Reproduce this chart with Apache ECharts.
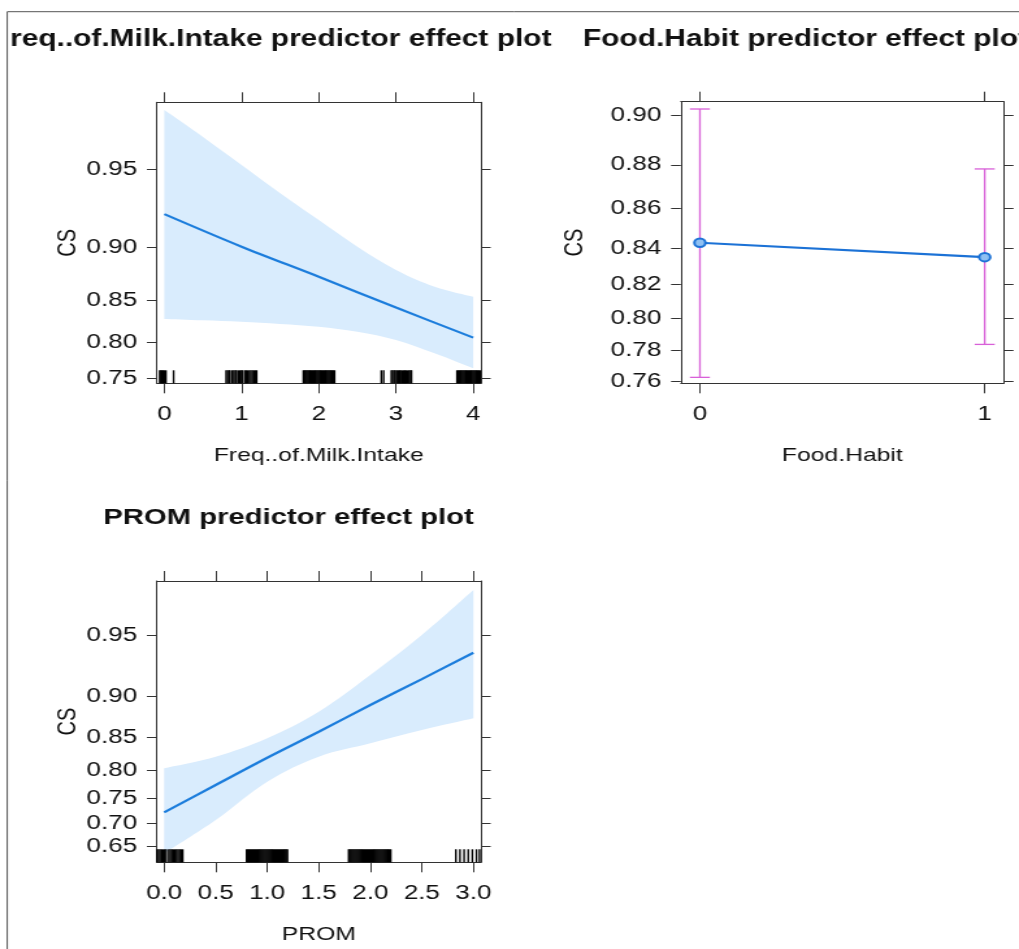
<!DOCTYPE html>
<html>
<head>
<meta charset="utf-8">
<script src="https://cdn.jsdelivr.net/npm/echarts@6.0.0/dist/echarts.min.js"></script>
<style>
html,body{margin:0;padding:0;background:#fff;overflow:hidden;width:1019px;height:949px;}
#c{width:784px;height:949px;transform:scaleX(1.29974);transform-origin:0 0;}
</style>
</head>
<body>
<div id="c"></div>
<script>
// ---------------- data (probabilities) ----------------
const titles = ['req..of.Milk.Intake predictor effect plot', 'Food.Habit predictor effect plot', 'PROM predictor effect plot'];

// Panel 1: Freq..of.Milk.Intake
const milkX = [0, 1, 2, 3, 4];
const milkFit = [0.9245, 0.9006, 0.874, 0.842, 0.806];
const milkBandX = [0, 0.5, 1, 1.5, 2, 2.5, 3, 3.5, 4];
const milkUpper = [0.9725, 0.9636, 0.9519, 0.9373, 0.9205, 0.9006, 0.8804, 0.8642, 0.8538];
const milkLower = [0.829, 0.8273, 0.8256, 0.823, 0.8196, 0.8134, 0.803, 0.7854, 0.7645];
const milkXTicks = [0, 1, 2, 3, 4];
const milkYTicks = [0.75, 0.80, 0.85, 0.90, 0.95];
const milkRug = [-0.06, -0.045, -0.03, -0.015, 0.0, 0.02, 0.12,
  0.80, 0.82, 0.84, 0.85, 0.88, 0.90, 0.92, 0.935, 0.96, 0.98, 1.0, 1.01, 1.04, 1.06, 1.075, 1.10, 1.12, 1.14, 1.16, 1.18, 1.195,
  1.80, 1.815, 1.83, 1.845, 1.86, 1.875, 1.89, 1.905, 1.92, 1.935, 1.95, 1.965, 1.98, 1.995, 2.01, 2.025, 2.04, 2.055, 2.07, 2.085, 2.10, 2.115, 2.13, 2.145, 2.16, 2.175, 2.19, 2.205,
  2.81, 2.84, 2.94, 2.955, 2.975, 2.99, 3.01, 3.03, 3.045, 3.06, 3.08, 3.10, 3.115, 3.13, 3.15, 3.17, 3.19, 3.20,
  3.79, 3.805, 3.82, 3.835, 3.85, 3.865, 3.88, 3.895, 3.91, 3.925, 3.94, 3.955, 3.97, 3.985, 4.0, 4.015, 4.03, 4.045, 4.06, 4.075, 4.09];

// Panel 2: Food.Habit
const foodX = [0, 1];
const foodFit = [0.8428, 0.8352];
const foodUpper = [0.9025, 0.8782];
const foodLower = [0.7625, 0.784];
const foodXTicks = [0, 1];
const foodYTicks = [0.76, 0.78, 0.80, 0.82, 0.84, 0.86, 0.88, 0.90];

// Panel 3: PROM
const promX = [0, 0.5, 1, 1.5, 2, 2.5, 3];
const promFit = [0.7225, 0.7742, 0.8199, 0.8576, 0.8904, 0.9167, 0.9382];
const promUpper = [0.8029, 0.8214, 0.8486, 0.8827, 0.9203, 0.95, 0.9721];
const promLower = [0.6354, 0.7069, 0.78, 0.8214, 0.8415, 0.8599, 0.8748];
const promXTicks = [0, 0.5, 1, 1.5, 2, 2.5, 3];
const promYTicks = [0.65, 0.70, 0.75, 0.80, 0.85, 0.90, 0.95];
const promRug = [-0.07, -0.055, -0.04, -0.025, -0.01, 0.005, 0.02, 0.045, 0.06, 0.075, 0.09, 0.105, 0.12, 0.135, 0.15, 0.165, 0.18,
  0.80, 0.812, 0.824, 0.836, 0.848, 0.86, 0.872, 0.884, 0.896, 0.908, 0.92, 0.932, 0.944, 0.956, 0.968, 0.98, 0.992, 1.004, 1.016, 1.028, 1.04, 1.052, 1.064, 1.076, 1.088, 1.10, 1.112, 1.124, 1.136, 1.148, 1.16, 1.172, 1.184, 1.196,
  1.79, 1.802, 1.814, 1.826, 1.838, 1.85, 1.862, 1.874, 1.886, 1.898, 1.91, 1.922, 1.934, 1.946, 1.958, 1.97, 1.982, 1.994, 2.006, 2.018, 2.03, 2.042, 2.054, 2.066, 2.078, 2.09, 2.102, 2.114, 2.126, 2.138, 2.15, 2.162, 2.174, 2.186, 2.198,
  2.83, 2.87, 2.91, 2.95, 2.99, 3.03, 3.06];

// ---------------- probit scale helper (the plot's y scale) ----------------
function qnorm(p) {
  const a = [-3.969683028665376e+01, 2.209460984245205e+02, -2.759285104469687e+02, 1.383577518672690e+02, -3.066479806614716e+01, 2.506628277459239e+00];
  const b = [-5.447609879822406e+01, 1.615858368580409e+02, -1.556989798598866e+02, 6.680131188771972e+01, -1.328068155288572e+01];
  const c = [-7.784894002430293e-03, -3.223964580411365e-01, -2.400758277161838e+00, -2.549732539343734e+00, 4.374664141464968e+00, 2.938163982698783e+00];
  const d = [7.784695709041462e-03, 3.224671290700398e-01, 2.445134137142996e+00, 3.754408661907416e+00];
  const pl = 0.02425, ph = 1 - pl;
  let q, r;
  if (p < pl) { q = Math.sqrt(-2 * Math.log(p)); return (((((c[0]*q+c[1])*q+c[2])*q+c[3])*q+c[4])*q+c[5]) / ((((d[0]*q+d[1])*q+d[2])*q+d[3])*q+1); }
  if (p > ph) { q = Math.sqrt(-2 * Math.log(1 - p)); return -(((((c[0]*q+c[1])*q+c[2])*q+c[3])*q+c[4])*q+c[5]) / ((((d[0]*q+d[1])*q+d[2])*q+d[3])*q+1); }
  q = p - 0.5; r = q * q;
  return (((((a[0]*r+a[1])*r+a[2])*r+a[3])*r+a[4])*r+a[5])*q / (((((b[0]*r+b[1])*r+b[2])*r+b[3])*r+b[4])*r+1);
}

// ---------------- styles ----------------
const FONT = 'Liberation Sans';
const INK = '#111';
const FRAME = '#333';
const LINE_BLUE = '#1c7ddc';
const BAND = '#d9ecfd';
const BAR_PINK = '#d860d8';

const panels = [
  { grid: { left: 120.5, top: 102.3, width: 249.5, height: 281 }, xMin: -0.1, xMax: 4.1, yMin: 0.7426, yMax: 0.9747,
    xTicks: milkXTicks, yTicks: milkYTicks, xFmt: v => String(Math.round(v)), xName: 'Freq..of.Milk.Intake', yGap: 57 },
  { grid: { left: 523.8, top: 101.7, width: 248.5, height: 281.6 }, xMin: -0.067, xMax: 1.067, yMin: 0.7585, yMax: 0.9052,
    xTicks: foodXTicks, yTicks: foodYTicks, xFmt: v => String(Math.round(v)), xName: 'Food.Habit', yGap: 71 },
  { grid: { left: 120.5, top: 581, width: 249.5, height: 281.3 }, xMin: -0.073, xMax: 3.073, yMin: 0.6151, yMax: 0.9754,
    xTicks: promXTicks, yTicks: promYTicks, xFmt: v => v.toFixed(1), xName: 'PROM', yGap: 57 }
];

const grids = [], xAxes = [], yAxes = [];
const lineStyle = { color: FRAME, width: 1 };
panels.forEach((p, i) => {
  grids.push(Object.assign({ containLabel: false }, p.grid));
  const yq = p.yTicks.map(qnorm);
  const yFmt = v => { let best = 0; yq.forEach((t, k) => { if (Math.abs(t - v) < Math.abs(yq[best] - v)) best = k; }); return p.yTicks[best].toFixed(2); };
  const common = { type: 'value', gridIndex: i, splitLine: { show: false } };
  xAxes.push(Object.assign({}, common, {
    position: 'bottom', min: p.xMin, max: p.xMax,
    name: p.xName, nameLocation: 'middle', nameGap: 63,
    nameTextStyle: { fontFamily: FONT, fontSize: 19, color: INK },
    axisLine: { show: true, onZero: false, lineStyle },
    axisTick: { show: true, inside: false, length: 10, customValues: p.xTicks, lineStyle },
    axisLabel: { show: true, customValues: p.xTicks, formatter: p.xFmt, margin: 21, fontFamily: FONT, fontSize: 20, color: INK }
  }));
  xAxes.push(Object.assign({}, common, {
    position: 'top', min: p.xMin, max: p.xMax,
    axisLine: { show: true, onZero: false, lineStyle },
    axisTick: { show: true, inside: false, length: 10, customValues: p.xTicks, lineStyle },
    axisLabel: { show: false, customValues: p.xTicks }
  }));
  yAxes.push(Object.assign({}, common, {
    position: 'left', min: qnorm(p.yMin), max: qnorm(p.yMax),
    name: 'CS', nameLocation: 'middle', nameGap: p.yGap,
    nameTextStyle: { fontFamily: FONT, fontSize: 20, color: INK },
    axisLine: { show: true, onZero: false, lineStyle },
    axisTick: { show: true, inside: false, length: 7.5, customValues: yq, lineStyle },
    axisLabel: { show: true, customValues: yq, formatter: yFmt, margin: 15, fontFamily: FONT, fontSize: 20, color: INK }
  }));
  yAxes.push(Object.assign({}, common, {
    position: 'right', min: qnorm(p.yMin), max: qnorm(p.yMax),
    axisLine: { show: true, onZero: false, lineStyle },
    axisTick: { show: true, inside: false, length: 7.5, customValues: yq, lineStyle },
    axisLabel: { show: false, customValues: yq }
  }));
});

function rugSeries(gi, values, yMinP) {
  const yMinQ = qnorm(yMinP);
  return {
    type: 'custom', xAxisIndex: gi * 2, yAxisIndex: gi * 2, z: 5, silent: true, clip: false,
    data: values.map(v => [v, yMinQ]),
    renderItem: (params, api) => {
      const pt = api.coord([api.value(0), api.value(1)]);
      return { type: 'line', shape: { x1: pt[0], y1: pt[1], x2: pt[0], y2: pt[1] - 13 }, style: { stroke: '#000', lineWidth: 1.4 } };
    }
  };
}
// confidence band: upper and lower edges drawn as smooth curves through the axis scales, closed by straight ends
function bandSeries(gi, xs, lo, hi) {
  return {
    type: 'custom', xAxisIndex: gi * 2, yAxisIndex: gi * 2, z: 2, silent: true, clip: true,
    data: [[xs[0], qnorm(lo[0])]],
    renderItem: (params, api) => {
      const up = xs.map((x, k) => api.coord([x, qnorm(hi[k])]));
      const dn = xs.map((x, k) => api.coord([x, qnorm(lo[k])])).reverse();
      return {
        type: 'path',
        shape: {
          pathData: (function () {
            // cubic (Catmull-Rom style) bezier path through the band edge points
            function seg(pts, start) {
              let s = start ? 'M' + pts[0][0] + ' ' + pts[0][1] : 'L' + pts[0][0] + ' ' + pts[0][1];
              for (let i = 0; i < pts.length - 1; i++) {
                const p0 = pts[Math.max(i - 1, 0)], p1 = pts[i], p2 = pts[i + 1], p3 = pts[Math.min(i + 2, pts.length - 1)];
                const t = 0.18;
                const c1 = [p1[0] + (p2[0] - p0[0]) * t, p1[1] + (p2[1] - p0[1]) * t];
                const c2 = [p2[0] - (p3[0] - p1[0]) * t, p2[1] - (p3[1] - p1[1]) * t];
                s += ' C' + c1[0] + ' ' + c1[1] + ' ' + c2[0] + ' ' + c2[1] + ' ' + p2[0] + ' ' + p2[1];
              }
              return s;
            }
            return seg(up, true) + ' ' + seg(dn, false) + ' Z';
          })()
        },
        style: { fill: BAND, stroke: null }
      };
    }
  };
}
function fitSeries(gi, xs, ys) {
  return { type: 'line', xAxisIndex: gi * 2, yAxisIndex: gi * 2, symbol: 'none', smooth: 0.3, silent: true, z: 4,
    lineStyle: { color: LINE_BLUE, width: 2.2 }, data: xs.map((x, k) => [x, qnorm(ys[k])]) };
}

const series = [];
// Panel 1
series.push(bandSeries(0, milkBandX, milkLower, milkUpper));
series.push(fitSeries(0, milkX, milkFit));
series.push(rugSeries(0, milkRug, panels[0].yMin));
// Panel 2
series.push({
  type: 'custom', xAxisIndex: 2, yAxisIndex: 2, silent: true, z: 3,
  data: foodX.map((x, k) => [x, qnorm(foodLower[k]), qnorm(foodUpper[k])]),
  renderItem: (params, api) => {
    const lo = api.coord([api.value(0), api.value(1)]);
    const hi = api.coord([api.value(0), api.value(2)]);
    const w = 7.7;
    const st = { stroke: BAR_PINK, lineWidth: 1.3 };
    return { type: 'group', children: [
      { type: 'line', shape: { x1: lo[0], y1: lo[1], x2: hi[0], y2: hi[1] }, style: st },
      { type: 'line', shape: { x1: lo[0] - w, y1: lo[1], x2: lo[0] + w, y2: lo[1] }, style: st },
      { type: 'line', shape: { x1: hi[0] - w, y1: hi[1], x2: hi[0] + w, y2: hi[1] }, style: st }
    ] };
  }
});
series.push({ type: 'line', xAxisIndex: 2, yAxisIndex: 2, z: 4, silent: true,
  symbol: 'circle', symbolSize: 8.5,
  itemStyle: { color: '#8fc0f2', borderColor: '#1c72d6', borderWidth: 2 },
  lineStyle: { color: '#1c72d6', width: 2.2 },
  data: foodX.map((x, k) => [x, qnorm(foodFit[k])]) });
// Panel 3
series.push(bandSeries(2, promX, promLower, promUpper));
series.push(fitSeries(2, promX, promFit));
series.push(rugSeries(2, promRug, panels[2].yMin));

const titleStyle = { fontFamily: FONT, fontSize: 23, fontWeight: 'bold', color: INK };
const option = {
  backgroundColor: '#fff',
  animation: false,
  title: [
    { text: titles[0], left: 7.7, top: 28, padding: 0, textStyle: titleStyle },
    { text: titles[1], left: 448.5, top: 28, padding: 0, textStyle: titleStyle },
    { text: titles[2], left: 222, top: 506, padding: 0, textAlign: 'center', textStyle: Object.assign({}, titleStyle, { fontSize: 22.5 }) }
  ],
  graphic: [
    { type: 'line', shape: { x1: 5.6, y1: 11.7, x2: 790, y2: 11.7 }, style: { stroke: '#555', lineWidth: 1 } },
    { type: 'line', shape: { x1: 5.6, y1: 11.7, x2: 5.6, y2: 960 }, style: { stroke: '#555', lineWidth: 1 } }
  ],
  grid: grids,
  xAxis: xAxes,
  yAxis: yAxes,
  series: series
};
const chart = echarts.init(document.getElementById('c'), null, { width: 784, height: 949, renderer: 'canvas' });
chart.setOption(option);
</script>
</body>
</html>
